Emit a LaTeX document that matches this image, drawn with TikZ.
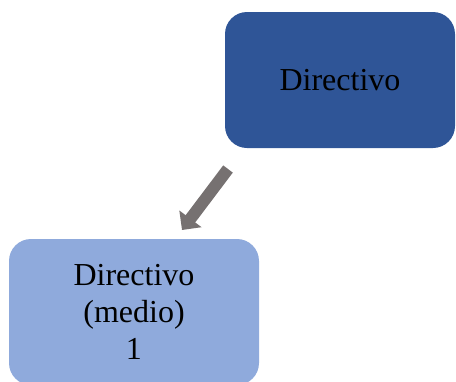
\documentclass[tikz,border=0pt]{standalone}
\usepackage{fontspec}
\setmainfont{Liberation Serif}
\usetikzlibrary{arrows.meta}
\definecolor{darkbox}{HTML}{2F5597}
\definecolor{lightbox}{HTML}{8FAADC}
\definecolor{arrowgray}{HTML}{767171}
\begin{document}
\begin{tikzpicture}[x=1pt,y=-1pt,
  box/.style={rounded corners=22pt, inner sep=0pt, align=center,
    font=\fontsize{32}{37}\selectfont, text=black},
  link/.style={draw=arrowgray, line width=12pt,
    -{Triangle[width=27pt,length=14pt]}}]
\useasboundingbox (0,0) rectangle (456,381);
\node[box, fill=darkbox, minimum width=230pt, minimum height=136pt]
  (top) at (340,80) {\raisebox{-2pt}{Directivo}};
\node[box, fill=lightbox, minimum width=250pt, minimum height=146pt]
  (mid) at (134,312) {Directivo\\(medio)\\1};
\coordinate (from) at (228,169);
\coordinate (to) at (182,230);
\draw[link] (from) -- (to);
\end{tikzpicture}
\end{document}
